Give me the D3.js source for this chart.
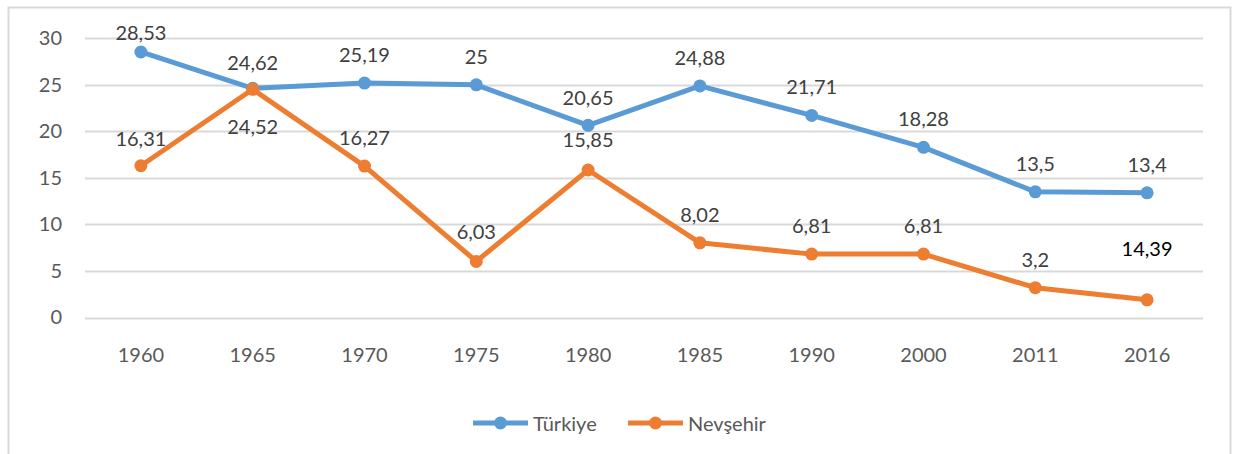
<!DOCTYPE html>
<html>
<head>
  <meta charset="utf-8">
  <title>Türkiye - Nevşehir</title>
</head>
<style>
  body {
    margin: 0;
    background: #fff;
  }
  text {
    font-family: Lato, "Open Sans", sans-serif;
  }
</style>
<body>
  <script src="https://d3js.org/d3.v7.min.js"></script>
  <script>
    const years = ["1960", "1965", "1970", "1975", "1980", "1985", "1990", "2000", "2011", "2016"];
    const turkiye = [28.53, 24.62, 25.19, 25, 20.65, 24.88, 21.71, 18.28, 13.5, 13.4];
    const nevsehir = [16.31, 24.52, 16.27, 6.03, 15.85, 8.02, 6.81, 6.81, 3.2, 1.9];
    // labels as printed on the chart (last one differs from plotted point)
    const turkiyeLabels = ["28,53", "24,62", "25,19", "25", "20,65", "24,88", "21,71", "18,28", "13,5", "13,4"];
    const nevsehirLabels = ["16,31", "24,52", "16,27", "6,03", "15,85", "8,02", "6,81", "6,81", "3,2", "14,39"];
    const yTicks = [0, 5, 10, 15, 20, 25, 30];

    const w = 1237, h = 454;
    const fs = "20px";

    const svg = d3.select("body").append("svg")
      .attr("width", w)
      .attr("height", h);

    // outer frame
    svg.append("rect")
      .attr("x", 8.5).attr("y", 7.5)
      .attr("width", 1222).attr("height", 460)
      .attr("fill", "none")
      .attr("stroke", "#d9d9d9")
      .attr("stroke-width", 2);

    const x = d3.scaleBand().domain(years).range([85, 1203]);
    const y = d3.scaleLinear().domain([0, 30]).range([317.5, 38.3]);
    const cx = d => x(d) + x.bandwidth() / 2;

    // grid
    svg.append("g")
      .selectAll("line")
      .data(yTicks)
      .join("line")
        .attr("x1", 85).attr("x2", 1203)
        .attr("y1", d => Math.round(y(d)) + 0.5)
        .attr("y2", d => Math.round(y(d)) + 0.5)
        .attr("stroke", "#d9d9d9")
        .attr("stroke-width", 2);

    // y axis
    const yAxis = svg.append("g")
      .attr("transform", "translate(62,0)")
      .call(d3.axisLeft(y).tickValues(yTicks).tickSize(0).tickPadding(0));
    yAxis.select(".domain").remove();
    yAxis.selectAll("text")
      .attr("fill", "#595959")
      .style("font-size", fs);

    // x axis
    const xAxis = svg.append("g")
      .attr("transform", "translate(0,348)")
      .call(d3.axisBottom(x).tickSize(0).tickPadding(0));
    xAxis.select(".domain").remove();
    xAxis.selectAll("text")
      .attr("fill", "#595959")
      .style("font-size", fs);

    const series = [
      { name: "Türkiye", values: turkiye, labels: turkiyeLabels, color: "#5b9bd5",
        dy: [-20, -26, -29, -29, -28, -29, -29, -29, -29, -29] },
      { name: "Nevşehir", values: nevsehir, labels: nevsehirLabels, color: "#ed7d31",
        dy: [-28, 37, -29, -30, -31, -29, -29, -29, -29, -52] }
    ];

    const line = d3.line()
      .x((d, i) => cx(years[i]))
      .y(d => y(d));

    series.forEach(s => {
      const g = svg.append("g");
      g.append("path")
        .datum(s.values)
        .attr("d", line)
        .attr("fill", "none")
        .attr("stroke", s.color)
        .attr("stroke-width", 5)
        .attr("stroke-linejoin", "round");
      g.selectAll("circle")
        .data(s.values)
        .join("circle")
          .attr("cx", (d, i) => cx(years[i]))
          .attr("cy", d => y(d))
          .attr("r", 6.5)
          .attr("fill", s.color);
    });

    // data labels drawn after lines so they sit on top
    series.forEach(s => {
      svg.append("g")
        .selectAll("text")
        .data(s.values)
        .join("text")
          .attr("x", (d, i) => cx(years[i]))
          .attr("y", (d, i) => y(d) + s.dy[i])
          .attr("text-anchor", "middle")
          .attr("dominant-baseline", "central")
          .attr("fill", (d, i) => s.labels[i] === "14,39" ? "#000" : "#404040")
          .style("font-size", fs)
          .text((d, i) => s.labels[i]);
    });

    // legend
    const legend = svg.append("g");
    const legendX = [473, 628];
    series.forEach((s, i) => {
      const lg = legend.append("g").attr("transform", "translate(" + legendX[i] + ",423)");
      lg.append("line")
        .attr("x1", 0).attr("x2", 55)
        .attr("stroke", s.color).attr("stroke-width", 5);
      lg.append("circle")
        .attr("cx", 27.5).attr("r", 6.5)
        .attr("fill", s.color);
      lg.append("text")
        .attr("x", 60)
        .attr("dominant-baseline", "central")
        .attr("fill", "#595959")
        .style("font-size", fs)
        .text(s.name);
    });
  </script>
</body>
</html>
